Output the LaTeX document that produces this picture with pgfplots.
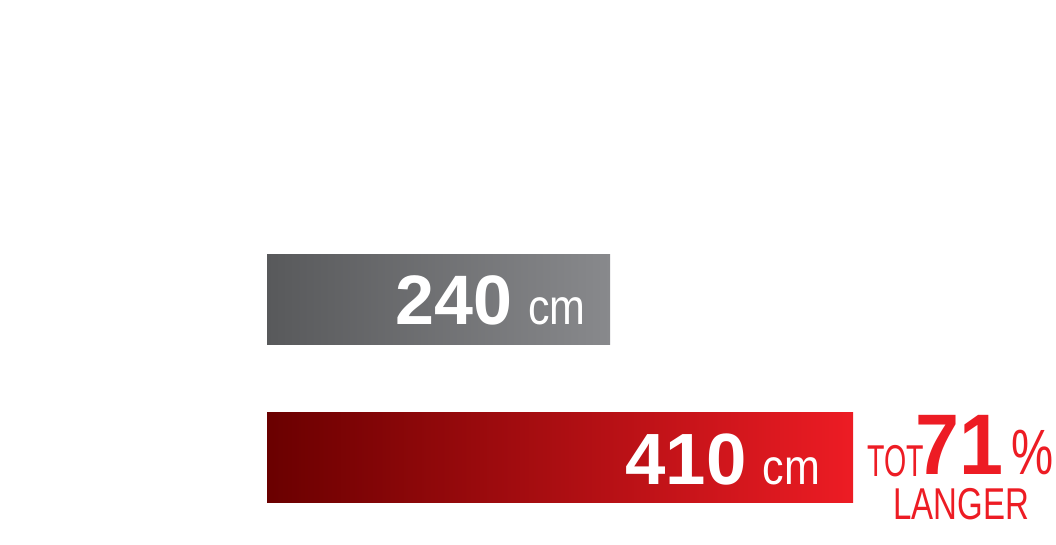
\documentclass[border=0pt]{standalone}
\usepackage{fontspec}
\setmainfont{Liberation Sans}
\newfontfamily\lcond[FakeStretch=0.86]{Liberation Sans}
\newfontfamily\lwide[FakeStretch=0.92]{Liberation Sans}
\newfontfamily\lmid[FakeStretch=0.74]{Liberation Sans}
\newfontfamily\lnarrow[FakeStretch=0.64]{Liberation Sans}
\usepackage{pgfplots}
\pgfplotsset{compat=1.18}

\definecolor{grayL}{HTML}{58595B}
\definecolor{grayR}{HTML}{88898C}
\definecolor{redL}{HTML}{6A0000}
\definecolor{redR}{HTML}{ED1C24}

\begin{document}
\begin{tikzpicture}
\begin{axis}[
    scale only axis,
    width=528pt, height=272.5pt,
    xmin=-186.8, xmax=552.0,
    ymin=0, ymax=545,
    hide axis,
    clip=false,
    xbar, bar width=45pt, bar shift=0pt,
]
% invisible frame so the page keeps the chart's proportions
\path (rel axis cs:0,0) rectangle (rel axis cs:1,1);

\addplot[draw=none, left color=grayL, right color=grayR] coordinates {(240,245)};
\addplot[draw=none, left color=redL, right color=redR] coordinates {(410,87)};

% value labels
\node[anchor=base west, inner sep=0, text=white, font=\fontsize{35}{35}\selectfont\bfseries]
    at (axis cs:89.6,220) {240};
\node[anchor=base west, inner sep=0, text=white, font=\fontsize{25}{25}\selectfont\lcond]
    at (axis cs:182.5,220) {cm};
\node[anchor=base west, inner sep=0, text=white, font=\fontsize{36.3}{36}\selectfont\bfseries]
    at (axis cs:250.5,60) {410};
\node[anchor=base west, inner sep=0, text=white, font=\fontsize{25}{25}\selectfont\lcond]
    at (axis cs:346.5,60) {cm};

% difference note
\node[anchor=base west, inner sep=0, text depth=0pt, text=redR, font=\fontsize{22.3}{22}\selectfont\lnarrow]
    at (axis cs:419.8,68) {TOT};
\node[anchor=base west, inner sep=0, text depth=0pt, text=redR, font=\fontsize{43}{43}\selectfont\lwide\bfseries]
    at (axis cs:453.5,70) {71};
\node[anchor=base west, inner sep=0, text depth=0pt, text=redR, font=\fontsize{32}{32}\selectfont\lmid]
    at (axis cs:520.5,70) {\%};
\node[anchor=base west, inner sep=0, text=redR, font=\fontsize{22.3}{22}\selectfont\lmid]
    at (axis cs:438.0,25) {LANGER};
\end{axis}
\end{tikzpicture}
\end{document}
